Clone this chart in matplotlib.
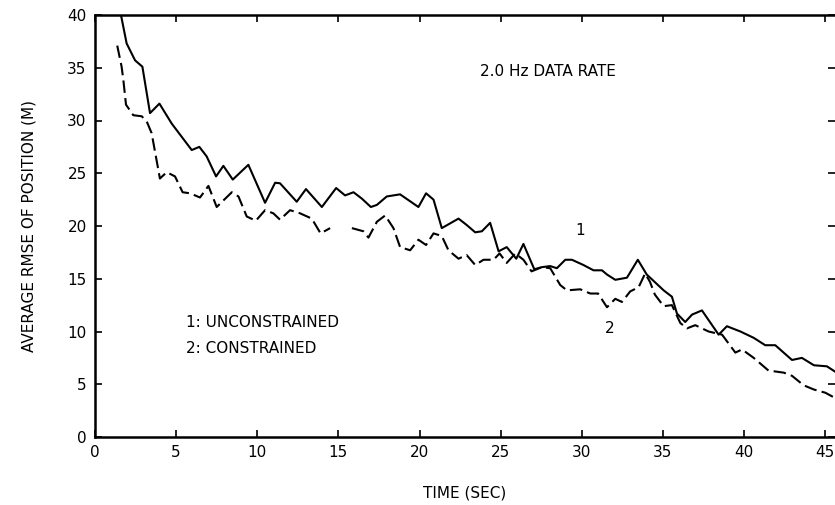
import numpy as np
import matplotlib
matplotlib.use("Agg")
import matplotlib.pyplot as plt

# Curve 1: unconstrained
t1 = [1.6, 1.95, 2.47, 2.92, 3.39, 3.97, 4.73, 5.96, 6.43, 6.88, 7.46, 7.91, 8.49, 9.45,
      10.48, 11.1, 11.4, 12.43, 13.0, 13.98, 14.86, 15.41, 15.93, 16.44, 17.0, 17.37,
      17.98, 18.8, 19.93, 20.4, 20.86, 21.37, 22.4, 22.9, 23.43, 23.84, 24.35, 24.87,
      25.37, 25.96, 26.4, 27.07, 27.54, 28.05, 28.46, 28.98, 29.39, 30.1, 30.72, 31.24,
      31.55, 32.06, 32.78, 33.45, 34.0, 35.04, 35.55, 35.86, 36.37, 36.79, 37.4, 38.43,
      38.94, 39.77, 40.59, 41.3, 41.92, 42.95, 43.56, 44.3, 45.1, 45.6]
rmse1 = [40.0, 37.3, 35.7, 35.1, 30.7, 31.6, 29.7, 27.2, 27.5, 26.6, 24.7, 25.7, 24.4, 25.8,
         22.2, 24.1, 24.05, 22.3, 23.5, 21.8, 23.6, 22.9, 23.2, 22.6, 21.8, 22.0,
         22.8, 23.0, 21.8, 23.1, 22.5, 19.8, 20.7, 20.1, 19.4, 19.5, 20.3, 17.6,
         18.0, 16.9, 18.3, 15.9, 16.1, 16.2, 16.0, 16.8, 16.8, 16.3, 15.8, 15.8,
         15.4, 14.9, 15.1, 16.8, 15.4, 13.9, 13.3, 11.7, 10.9, 11.6, 12.0, 9.7,
         10.5, 10.0, 9.4, 8.7, 8.7, 7.3, 7.5, 6.8, 6.7, 6.2]

# Curve 2: constrained (NaN marks the gap in the trace)
t2 = [1.37, 1.64, 1.75, 1.91, 2.36, 2.88, 3.19, 3.49, 4.0, 4.42, 4.93, 5.4, 5.86, 6.47,
      6.99, 7.5, 8.43, 8.84, 9.35, 9.91, 10.48, 10.99, 11.4, 12.02, 12.64, 13.36, 13.9,
      14.49, 15.2, 15.83, 16.54, 16.85, 17.37, 17.88, 18.39, 18.8, 19.42, 19.93, 20.4,
      20.86, 21.37, 21.78, 22.4, 22.9, 23.43, 23.94, 24.56, 24.93, 25.37, 25.9, 26.4,
      26.9, 27.54, 28.05, 28.67, 29.08, 29.9, 30.52, 31.0, 31.55, 32.06, 32.47, 32.98,
      33.5, 33.9, 34.2, 34.5, 35.04, 35.55, 36.07, 36.48, 36.99, 37.81, 38.64, 39.46,
      39.87, 40.59, 41.5, 42.44, 42.95, 43.67, 44.3, 45.0, 45.6]
rmse2 = [37.1, 35.1, 33.8, 31.5, 30.5, 30.4, 29.9, 28.8, 24.5, 25.1, 24.7, 23.2, 23.1, 22.7,
         23.8, 21.8, 23.2, 22.8, 20.9, 20.5, 21.5, 21.2, 20.6, 21.5, 21.2, 20.7, 19.3,
         19.8, np.nan, 19.8, 19.5, 18.9, 20.4, 21.0, 19.8, 18.0, 17.7, 18.7, 18.2,
         19.3, 19.05, 17.7, 16.9, 17.25, 16.3, 16.8, 16.8, 17.4, 16.5, 17.4, 16.8,
         15.7, 16.1, 16.0, 14.4, 13.9, 14.0, 13.6, 13.6, 12.3, 13.1, 12.8, 13.8,
         14.2, 15.5, 14.7, 13.5, 12.4, 12.5, 10.8, 10.3, 10.6, 10.0, 9.7, 8.0,
         8.3, 7.5, 6.3, 6.1, 5.8, 4.9, 4.5, 4.2, 3.7]

xticks = [0, 5, 10, 15, 20, 25, 30, 35, 40, 45]
yticks = [0, 5, 10, 15, 20, 25, 30, 35, 40]

fig = plt.figure(figsize=(8.35, 5.05), dpi=100)
ax = fig.add_axes([95/835, 68/505, 740/835, 422/505])

ax.plot(t1, rmse1, color="black", lw=1.5)
ax.plot(t2, rmse2, color="black", lw=1.5, linestyle=(0, (6, 2.5)))

ax.set_xlim(0, 45.6)
ax.set_ylim(0, 40)
ax.set_xticks(xticks)
ax.set_yticks(yticks)
ax.tick_params(direction="in", length=5, width=1.2, labelsize=11,
               top=True, right=True, pad=6)
for s in ["left", "bottom", "top"]:
    ax.spines[s].set_linewidth(1.8)
ax.spines["right"].set_visible(False)

lab = dict(fontsize=11)
ax.set_xlabel("TIME (SEC)", labelpad=18, **lab)
ax.set_ylabel("AVERAGE RMSE OF POSITION (M)", labelpad=22, **lab)

ax.text(23.7, 34.6, "2.0 Hz DATA RATE", va="center", ha="left", **lab)
ax.text(5.6, 10.9, "1: UNCONSTRAINED", va="center", ha="left", **lab)
ax.text(5.6, 8.4, "2: CONSTRAINED", va="center", ha="left", **lab)
ax.text(29.9, 19.6, "1", va="center", ha="center", **lab)
ax.text(31.7, 10.3, "2", va="center", ha="center", **lab)

fig.savefig("out.png", dpi=100)
